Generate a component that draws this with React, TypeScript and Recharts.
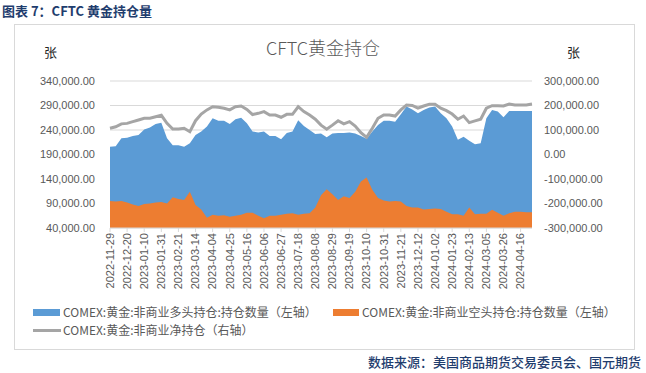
import React from 'react'
import { ComposedChart, Area, Line, XAxis, YAxis, CartesianGrid } from 'recharts'

const dates = [
  '2022-11-29', '2022-12-06', '2022-12-13', '2022-12-20', '2022-12-27',
  '2023-01-03', '2023-01-10', '2023-01-17', '2023-01-24', '2023-01-31',
  '2023-02-07', '2023-02-14', '2023-02-21', '2023-02-28',
  '2023-03-07', '2023-03-14', '2023-03-21', '2023-03-28',
  '2023-04-04', '2023-04-11', '2023-04-18', '2023-04-25',
  '2023-05-02', '2023-05-09', '2023-05-16', '2023-05-23', '2023-05-30',
  '2023-06-06', '2023-06-13', '2023-06-20', '2023-06-27',
  '2023-07-04', '2023-07-11', '2023-07-18', '2023-07-25',
  '2023-08-01', '2023-08-08', '2023-08-15', '2023-08-22', '2023-08-29',
  '2023-09-05', '2023-09-12', '2023-09-19', '2023-09-26',
  '2023-10-03', '2023-10-10', '2023-10-17', '2023-10-24', '2023-10-31',
  '2023-11-07', '2023-11-14', '2023-11-21', '2023-11-28',
  '2023-12-05', '2023-12-12', '2023-12-19', '2023-12-26',
  '2024-01-02', '2024-01-09', '2024-01-16', '2024-01-23', '2024-01-30',
  '2024-02-06', '2024-02-13', '2024-02-20', '2024-02-27',
  '2024-03-05', '2024-03-12', '2024-03-19', '2024-03-26',
  '2024-04-02', '2024-04-09', '2024-04-16', '2024-04-23', '2024-04-30',
]

// 非商业多头持仓（左轴）
const longPos = [
  206000, 207000, 223000, 224000, 228000, 230000, 241000, 245000, 252000, 255000,
  223000, 209000, 209000, 206000, 213000, 230000, 237000, 247000, 264000, 259000,
  259000, 252000, 262000, 265000, 254000, 237000, 235000, 237000, 228000, 228000,
  221000, 234000, 237000, 260000, 248000, 240000, 232000, 233000, 225000, 233000,
  234000, 234000, 235000, 233000, 228000, 222000, 237000, 250000, 259000, 259000,
  257000, 272000, 288000, 282000, 274000, 281000, 286000, 288000, 274000, 264000,
  247000, 220000, 226000, 218000, 211000, 213000, 264000, 281000, 278000, 266000,
  279000, 279000, 279000, 279000, 279000,
]

// 非商业空头持仓（左轴）
const shortPos = [
  95000, 94000, 95000, 92000, 88000, 85000, 89000, 90000, 92000, 93000,
  90000, 103000, 99000, 97000, 114000, 87000, 78000, 61000, 67000, 65000,
  66000, 63000, 65000, 67000, 71000, 71000, 65000, 60000, 65000, 65000,
  67000, 69000, 70000, 67000, 69000, 70000, 82000, 107000, 119000, 109000,
  97000, 105000, 101000, 114000, 135000, 143000, 118000, 101000, 96000, 94000,
  95000, 94000, 85000, 82000, 82000, 78000, 79000, 80000, 79000, 73000,
  68000, 68000, 65000, 82000, 68000, 69000, 69000, 77000, 71000, 65000,
  70000, 73000, 73000, 72000, 72000,
]

// 非商业净持仓（右轴）
const netPos = [
  107000, 113000, 125000, 127000, 134000, 141000, 148000, 148000, 154000, 160000,
  127000, 104000, 104000, 107000, 93000, 138000, 165000, 182000, 195000, 193000,
  189000, 182000, 195000, 198000, 184000, 163000, 168000, 175000, 161000, 161000,
  152000, 164000, 164000, 195000, 175000, 161000, 144000, 120000, 103000, 120000,
  138000, 125000, 134000, 116000, 89000, 70000, 107000, 148000, 161000, 161000,
  157000, 182000, 202000, 200000, 189000, 198000, 205000, 205000, 189000, 179000,
  165000, 144000, 157000, 130000, 137000, 144000, 189000, 199000, 199000, 198000,
  206000, 202000, 202000, 202000, 206000,
]

const leftTicks = [40000, 90000, 140000, 190000, 240000, 290000, 340000]
const rightTicks = [-300000, -200000, -100000, 0, 100000, 200000, 300000]

const legendNames = [
  'COMEX:黄金:非商业多头持仓:持仓数量（左轴）',
  'COMEX:黄金:非商业空头持仓:持仓数量（左轴）',
  'COMEX:黄金:非商业净持仓（右轴）',
]

const BLUE = '#5B9BD5'
const ORANGE = '#ED7D31'
const GREY = '#A5A5A5'
const TEXT = '#595959'
const FONT = '"Liberation Sans", "Noto Sans CJK SC", sans-serif'
const CJK = '"Noto Sans CJK SC", "Liberation Sans", sans-serif'

const data = dates.map((d, i) => ({
  date: d,
  long: longPos[i],
  short: shortPos[i],
  net: netPos[i],
}))

const fmt = (v: number) =>
  v.toLocaleString('en-US', { minimumFractionDigits: 2, maximumFractionDigits: 2 })

function DateTick(props: any) {
  const { x, y, payload } = props
  return (
    <text
      x={x}
      y={y}
      dy="0.35em"
      transform={`rotate(-90 ${x} ${y})`}
      textAnchor="end"
      fill={TEXT}
      fontSize={11}
      fontFamily={FONT}
    >
      {payload.value}
    </text>
  )
}

export default function App() {
  return (
    <div style={{ position: 'absolute', left: 0, top: 0, width: 646, height: 373, background: '#fff' }}>
      <div style={{ position: 'absolute', left: 2, top: 3, fontFamily: CJK, fontSize: 13, fontWeight: 700, color: '#1F3D6E', lineHeight: '16px' }}>
        图表 7：CFTC 黄金持仓量
      </div>
      <div style={{ position: 'absolute', left: 14, top: 24, width: 621, height: 326, border: '1px solid #D9D9D9', boxSizing: 'border-box' }} />
      <div style={{ position: 'absolute', left: 0, top: 0 }}>
        <ComposedChart width={646} height={373} data={data} margin={{ top: 81, right: 0, bottom: 75, left: 0 }}>
          <CartesianGrid yAxisId="left" vertical={false} stroke="#D9D9D9" />
          <XAxis
            dataKey="date"
            scale="point"
            interval={2}
            height={70}
            tick={<DateTick />}
            tickSize={4}
            tickMargin={1}
            axisLine={{ stroke: '#D9D9D9' }}
            tickLine={{ stroke: '#D9D9D9' }}
          />
          <YAxis
            yAxisId="left"
            orientation="left"
            width={110}
            domain={[40000, 340000]}
            ticks={leftTicks}
            tickFormatter={fmt}
            axisLine={false}
            tickLine={false}
            tickSize={0}
            tickMargin={15}
            tick={{ fill: TEXT, fontSize: 11, fontFamily: FONT }}
          />
          <YAxis
            yAxisId="right"
            orientation="right"
            width={114}
            domain={[-300000, 300000]}
            ticks={rightTicks}
            tickFormatter={fmt}
            axisLine={false}
            tickLine={false}
            tickSize={0}
            tickMargin={12}
            tick={{ fill: TEXT, fontSize: 11, fontFamily: FONT, textAnchor: 'start' }}
          />
          <Area yAxisId="left" type="linear" dataKey="long" fill={BLUE} fillOpacity={1} stroke="none" isAnimationActive={false} />
          <Area yAxisId="left" type="linear" dataKey="short" fill={ORANGE} fillOpacity={1} stroke="none" isAnimationActive={false} />
          <Line yAxisId="right" type="linear" dataKey="net" stroke={GREY} strokeWidth={3} dot={false} isAnimationActive={false} />
        </ComposedChart>
      </div>
      <div style={{ position: 'absolute', left: 0, width: 646, top: 35, textAlign: 'center', fontFamily: CJK, fontSize: 18, fontWeight: 300, color: TEXT, lineHeight: '24px' }}>
        CFTC黄金持仓
      </div>
      <div style={{ position: 'absolute', left: 44, top: 44, fontFamily: CJK, fontSize: 13, color: '#262626', lineHeight: '16px' }}>张</div>
      <div style={{ position: 'absolute', left: 567, top: 44, fontFamily: CJK, fontSize: 13, color: '#262626', lineHeight: '16px' }}>张</div>
      <div style={{ position: 'absolute', left: 33, top: 304, fontFamily: CJK, fontSize: 12, color: TEXT, lineHeight: '16px', whiteSpace: 'nowrap' }}>
        <span style={{ position: 'absolute', left: 0, top: 5, width: 27, height: 7, background: BLUE }} />
        <span style={{ position: 'absolute', left: 30, top: 0 }}>{legendNames[0]}</span>
        <span style={{ position: 'absolute', left: 300, top: 5, width: 26, height: 7, background: ORANGE }} />
        <span style={{ position: 'absolute', left: 329, top: 0 }}>{legendNames[1]}</span>
        <span style={{ position: 'absolute', left: 0, top: 25, width: 28, height: 3, background: GREY }} />
        <span style={{ position: 'absolute', left: 30, top: 18 }}>{legendNames[2]}</span>
      </div>
      <div style={{ position: 'absolute', right: 5, top: 354, fontFamily: CJK, fontSize: 13, fontWeight: 500, color: '#1F3D6E', lineHeight: '16px' }}>
        数据来源：美国商品期货交易委员会、国元期货
      </div>
    </div>
  )
}
